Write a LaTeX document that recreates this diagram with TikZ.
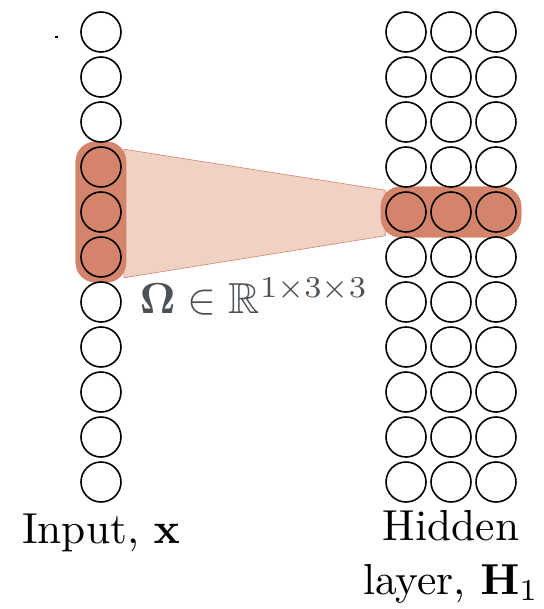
\documentclass[tikz,border=0pt]{standalone}
\usepackage{amssymb}
\usepackage{amsmath}
\usepackage{xcolor}
\usepackage{tikz}
\usetikzlibrary{positioning,fit,backgrounds,calc}
\definecolor{cnnorange}{HTML}{D4846A}
\definecolor{cnnpale}{HTML}{F0D2C4}
\definecolor{cnngray}{HTML}{4B5257}
\tikzset{
  cnnunit/.style={
    circle,
    draw=black,
    line width=0.8pt,
    minimum size=20pt,
    inner sep=0pt
  },
  cnnwindow/.style={fill=cnnorange,draw=none,rounded corners=10pt,inner sep=2.3pt},
  cnncone/.style={fill=cnnpale,draw=cnnorange,line width=0.3pt},
  cnntext/.style={font=\normalsize,scale=2.17,align=center,inner sep=0pt}
}

\begin{document}
\begin{tikzpicture}[x=0.5pt,y=-0.5pt]
  \useasboundingbox (0,0) rectangle (544,609);

  % input column
  \foreach \i in {0,...,10}
    \node[cnnunit] (in\i) at (101,32+45*\i) {};
  % hidden layer, three channels
  \foreach \c/\cx in {1/406,2/451,3/496}
    \foreach \i in {0,...,10}
      \node[cnnunit] (h\c-\i) at (\cx,32+45*\i) {};

  \begin{scope}[on background layer]
    \node[cnnwindow,fit=(in3)(in5)] (inwin) {};
    \node[cnnwindow,fit=(h1-4)(h3-4)] (hwin) {};
    \fill[cnncone] ($(inwin.north east)+(-3,8)$) -- ($(hwin.north west)+(5,4)$)
      -- ($(hwin.south west)+(5,-2)$) -- ($(inwin.south east)+(-3,-5)$) -- cycle;
    \node[cnnwindow,fit=(in3)(in5)] {};
    \node[cnnwindow,fit=(h1-4)(h3-4)] {};
  \end{scope}

  \draw[line width=0.6pt] (55,37) -- (58,37);

  \node[cnntext,text=cnngray,anchor=base] (omega) at (254,313)
    {$\boldsymbol{\Omega}\in\mathbb{R}^{1\times3\times3}$};
  \node[cnntext,below=5pt of in10] (inlabel) {Input, $\mathbf{x}$};
  \node[cnntext,below=3.5pt of h2-10] (hlabel) {Hidden\\[0.3pt]layer, $\mathbf{H}_1$};
\end{tikzpicture}
\end{document}
